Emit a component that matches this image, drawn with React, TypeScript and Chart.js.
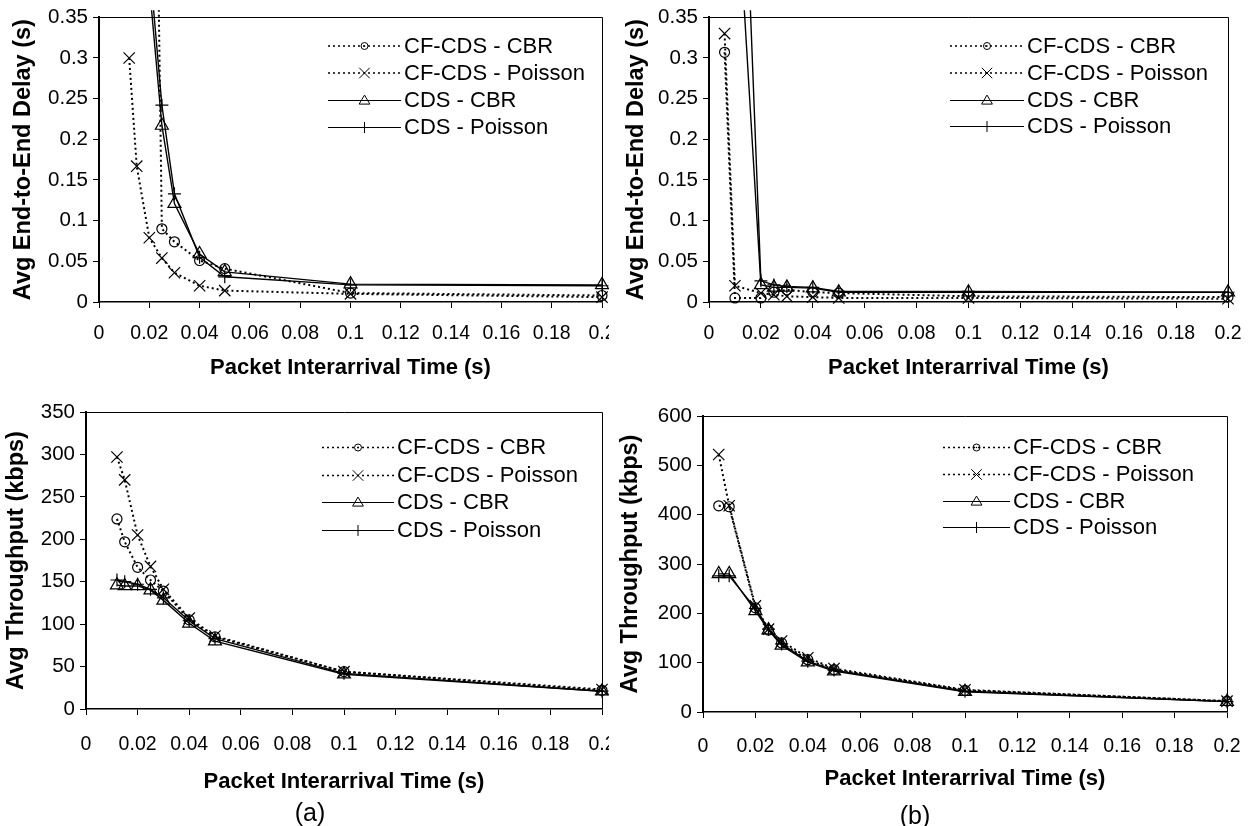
import React, { useEffect, useRef } from "react";
import { Chart, registerables } from "chart.js";
Chart.register(...registerables);

const FONT = "'Liberation Sans', Arial, Helvetica, sans-serif";

const seriesLabels = ["CF-CDS - CBR", "CF-CDS - Poisson", "CDS - CBR", "CDS - Poisson"];

const xTickLabels = ["0", "0.02", "0.04", "0.06", "0.08", "0.1", "0.12", "0.14", "0.16", "0.18", "0.2"];
const delayTickLabels = ["0", "0.05", "0.1", "0.15", "0.2", "0.25", "0.3", "0.35"];
const thrTickLabelsA = ["0", "50", "100", "150", "200", "250", "300", "350"];
const thrTickLabelsB = ["0", "100", "200", "300", "400", "500", "600"];

const xTitle = "Packet Interarrival Time (s)";
const delayTitle = "Avg End-to-End Delay (s)";
const thrTitle = "Avg Throughput (kbps)";
const captionA = "(a)";
const captionB = "(b)";

// (a) packet interarrival times (s)
const intervalA = [0.012, 0.015, 0.02, 0.025, 0.03, 0.04, 0.05, 0.1, 0.2];
// (a) delay (s)
const delayA_CFCDS_CBR = [2.0, 1.6, 1.2, 0.09, 0.074, 0.051, 0.041, 0.011, 0.008];
const delayA_CFCDS_Poisson = [0.3, 0.167, 0.079, 0.054, 0.036, 0.02, 0.014, 0.01, 0.006];
const delayA_CDS_CBR = [1.0, 0.7, 0.39, 0.217, 0.121, 0.059, 0.037, 0.022, 0.021];
const delayA_CDS_Poisson = [1.1, 0.75, 0.42, 0.242, 0.133, 0.055, 0.031, 0.021, 0.02];
// (a) throughput (kbps)
const thrA_CFCDS_CBR = [224, 197, 167, 152, 139, 105, 85, 44, 22];
const thrA_CFCDS_Poisson = [297, 270, 205, 168, 141, 107, 86, 44, 23];
const thrA_CDS_CBR = [146, 145, 145, 140, 128, 101, 80, 41, 21];
const thrA_CDS_Poisson = [152, 150, 147, 141, 131, 104, 83, 42, 21];

// (b) packet interarrival times (s)
const intervalB = [0.006, 0.01, 0.02, 0.025, 0.03, 0.04, 0.05, 0.1, 0.2];
// (b) delay (s)
const delayB_CFCDS_CBR = [0.307, 0.005, 0.005, 0.012, 0.015, 0.012, 0.011, 0.007, 0.006];
const delayB_CFCDS_Poisson = [0.33, 0.02, 0.011, 0.009, 0.007, 0.006, 0.005, 0.005, 0.004];
const delayB_CDS_CBR = [1.3, 0.55, 0.021, 0.018, 0.018, 0.017, 0.012, 0.012, 0.012];
const delayB_CDS_Poisson = [1.6, 0.85, 0.026, 0.021, 0.019, 0.018, 0.013, 0.013, 0.012];
// (b) throughput (kbps)
const thrB_CFCDS_CBR = [418, 416, 211, 166, 140, 106, 86, 44, 22];
const thrB_CFCDS_Poisson = [522, 418, 215, 168, 144, 110, 88, 45, 22];
const thrB_CDS_CBR = [280, 280, 205, 166, 135, 101, 83, 41, 21];
const thrB_CDS_Poisson = [276, 276, 210, 168, 138, 103, 85, 42, 21];

type SeriesStyle = { dash: number[]; width: number; point: string; radius: number; legendRadius: number };
const styles: SeriesStyle[] = [
  { dash: [2, 3], width: 2, point: "circle", radius: 5, legendRadius: 3.5 },
  { dash: [2, 3], width: 2, point: "crossRot", radius: 8, legendRadius: 7 },
  { dash: [], width: 1.4, point: "triangle", radius: 7.5, legendRadius: 6 },
  { dash: [], width: 1.4, point: "cross", radius: 6.5, legendRadius: 5.5 },
];

type PanelProps = {
  left: number;
  top: number;
  width: number;
  height: number;
  clipWidth: number;
  area: { l: number; t: number; r: number; b: number };
  xs: number[];
  series: number[][];
  yMax: number;
  yStep: number;
  yLabels: string[];
  yTitle: string;
  yTitlePad: number;
  xLabelPad: number;
  xTitlePadBottom: number;
  legend: { lineStart: number; textX: number; rows: number[] };
};

function drawMarker(ctx: CanvasRenderingContext2D, style: string, x: number, y: number, r: number) {
  ctx.beginPath();
  if (style === "circle") {
    ctx.arc(x, y, r, 0, Math.PI * 2);
    ctx.stroke();
    ctx.beginPath();
    ctx.arc(x, y, 0.8, 0, Math.PI * 2);
    ctx.fillStyle = "#000";
    ctx.fill();
    return;
  }
  if (style === "crossRot") {
    const d = r * 0.75;
    ctx.moveTo(x - d, y - d);
    ctx.lineTo(x + d, y + d);
    ctx.moveTo(x + d, y - d);
    ctx.lineTo(x - d, y + d);
  } else if (style === "triangle") {
    const h = r * 1.5;
    ctx.moveTo(x, y - h * 0.6);
    ctx.lineTo(x + r * 0.9, y + h * 0.4);
    ctx.lineTo(x - r * 0.9, y + h * 0.4);
    ctx.closePath();
  } else {
    ctx.moveTo(x - r, y);
    ctx.lineTo(x + r, y);
    ctx.moveTo(x, y - r);
    ctx.lineTo(x, y + r);
  }
  ctx.stroke();
}

function Panel(p: PanelProps) {
  const ref = useRef<HTMLCanvasElement | null>(null);
  useEffect(() => {
    const canvas = ref.current;
    if (!canvas) return;
    const { l, t, r, b } = p.area;
    const framePlugin = {
      id: "frameLegend",
      beforeDatasetsDraw(chart: any) {
        const { ctx, chartArea } = chart;
        ctx.save();
        ctx.strokeStyle = "#000";
        ctx.lineWidth = 1;
        ctx.beginPath();
        ctx.moveTo(chartArea.left, Math.round(chartArea.top) + 0.5);
        ctx.lineTo(Math.round(chartArea.right) + 0.5, Math.round(chartArea.top) + 0.5);
        ctx.lineTo(Math.round(chartArea.right) + 0.5, chartArea.bottom);
        ctx.stroke();
        ctx.restore();
      },
      afterDraw(chart: any) {
        const { ctx } = chart;
        const lg = p.legend;
        ctx.save();
        ctx.font = `22px ${FONT}`;
        ctx.textBaseline = "middle";
        ctx.textAlign = "left";
        ctx.fillStyle = "#000";
        seriesLabels.forEach((label, i) => {
          const s = styles[i];
          const y = lg.rows[i];
          const x0 = lg.lineStart;
          const x1 = lg.textX - 3;
          ctx.strokeStyle = "#000";
          ctx.lineWidth = s.dash.length ? 1.5 : 1.2;
          ctx.setLineDash(s.dash);
          ctx.beginPath();
          ctx.moveTo(x0, y + 0.5);
          ctx.lineTo(x1, y + 0.5);
          ctx.stroke();
          ctx.setLineDash([]);
          ctx.lineWidth = 1;
          drawMarker(ctx, s.point, (x0 + x1) / 2, y + 0.5, s.legendRadius);
          ctx.fillStyle = "#000";
          ctx.fillText(label, lg.textX, y + 1);
        });
        ctx.restore();
      },
    };
    const chart = new Chart(canvas, {
      type: "line",
      data: {
        datasets: p.series.map((ys, i) => ({
          label: seriesLabels[i],
          data: p.xs.map((x, j) => ({ x, y: ys[j] })),
          borderColor: "#000",
          borderWidth: styles[i].width,
          borderDash: styles[i].dash,
          pointStyle: styles[i].point as any,
          pointRadius: styles[i].radius,
          pointBorderColor: "#000",
          pointBackgroundColor: "rgba(0,0,0,0)",
          pointBorderWidth: 1.2,
          fill: false,
          tension: 0,
          clip: { left: 10, right: 10, top: 7, bottom: 10 },
        })),
      },
      options: {
        responsive: false,
        animation: false,
        events: [],
        layout: { padding: { left: 0, top: t, right: p.width - r, bottom: 0 } },
        plugins: { legend: { display: false }, tooltip: { enabled: false } },
        scales: {
          x: {
            type: "linear",
            min: 0,
            max: 0.2,
            afterFit: (s: any) => {
              s.height = p.height - b;
            },
            ticks: {
              stepSize: 0.02,
              autoSkip: false,
              maxRotation: 0,
              padding: p.xLabelPad,
              color: "#000",
              font: { family: FONT, size: 19.5 },
              callback: (_v: any, i: number) => xTickLabels[i],
            },
            grid: { display: true, drawOnChartArea: false, drawTicks: true, tickLength: 6, color: "#000", lineWidth: 1 },
            border: { display: true, color: "#000", width: 1.5 },
            title: {
              display: true,
              text: xTitle,
              color: "#000",
              font: { family: FONT, size: 22, weight: "bold" },
              padding: { top: 0, bottom: p.xTitlePadBottom },
            },
          },
          y: {
            type: "linear",
            min: 0,
            max: p.yMax,
            afterFit: (s: any) => {
              s.width = l;
            },
            ticks: {
              stepSize: p.yStep,
              autoSkip: false,
              padding: 5,
              color: "#000",
              font: { family: FONT, size: 20.5 },
              callback: (_v: any, i: number) => p.yLabels[i],
            },
            grid: { display: true, drawOnChartArea: false, drawTicks: true, tickLength: 6, color: "#000", lineWidth: 1 },
            border: { display: true, color: "#000", width: 2 },
            title: {
              display: true,
              text: p.yTitle,
              color: "#000",
              font: { family: FONT, size: 23.5, weight: "bold" },
              padding: { top: p.yTitlePad, bottom: 0 },
            },
          },
        },
      },
      plugins: [framePlugin],
    } as any);
    return () => chart.destroy();
  }, []);
  return (
    <div
      style={{
        position: "absolute",
        left: p.left,
        top: p.top,
        width: p.clipWidth,
        height: p.height,
        overflow: "hidden",
      }}
    >
      <canvas
        ref={ref}
        width={p.width}
        height={p.height}
        style={{ position: "absolute", left: 0, top: 0, width: p.width, height: p.height }}
      />
    </div>
  );
}

export default function App() {
  const captionStyle: React.CSSProperties = {
    position: "absolute",
    width: 80,
    textAlign: "center",
    fontFamily: FONT,
    fontSize: 25,
    lineHeight: "30px",
    color: "#000",
  };
  return (
    <div style={{ position: "absolute", left: 0, top: 0, width: 1260, height: 826, background: "#fff", overflow: "hidden" }}>
      <Panel
        left={0}
        top={0}
        width={640}
        height={390}
        clipWidth={609}
        area={{ l: 99, t: 13, r: 602, b: 302 }}
        xs={intervalA}
        series={[delayA_CFCDS_CBR, delayA_CFCDS_Poisson, delayA_CDS_CBR, delayA_CDS_Poisson]}
        yMax={0.35}
        yStep={0.05}
        yLabels={delayTickLabels}
        yTitle={delayTitle}
        yTitlePad={9}
        xLabelPad={14}
        xTitlePadBottom={9}
        legend={{ lineStart: 328, textX: 404, rows: [45.5, 72.5, 100, 127] }}
      />
      <Panel
        left={609}
        top={0}
        width={651}
        height={390}
        clipWidth={651}
        area={{ l: 100, t: 13, r: 619, b: 302 }}
        xs={intervalB}
        series={[delayB_CFCDS_CBR, delayB_CFCDS_Poisson, delayB_CDS_CBR, delayB_CDS_Poisson]}
        yMax={0.35}
        yStep={0.05}
        yLabels={delayTickLabels}
        yTitle={delayTitle}
        yTitlePad={13}
        xLabelPad={14}
        xTitlePadBottom={9}
        legend={{ lineStart: 341, textX: 418, rows: [45.5, 72.5, 100, 126] }}
      />
      <Panel
        left={0}
        top={390}
        width={640}
        height={436}
        clipWidth={609}
        area={{ l: 86, t: 22, r: 602, b: 319 }}
        xs={intervalA}
        series={[thrA_CFCDS_CBR, thrA_CFCDS_Poisson, thrA_CDS_CBR, thrA_CDS_Poisson]}
        yMax={350}
        yStep={50}
        yLabels={thrTickLabelsA}
        yTitle={thrTitle}
        yTitlePad={2}
        xLabelPad={18}
        xTitlePadBottom={31}
        legend={{ lineStart: 322, textX: 397, rows: [57, 85, 112, 140] }}
      />
      <Panel
        left={609}
        top={390}
        width={651}
        height={436}
        clipWidth={651}
        area={{ l: 94, t: 26, r: 618, b: 322 }}
        xs={intervalB}
        series={[thrB_CFCDS_CBR, thrB_CFCDS_Poisson, thrB_CDS_CBR, thrB_CDS_Poisson]}
        yMax={600}
        yStep={100}
        yLabels={thrTickLabelsB}
        yTitle={thrTitle}
        yTitlePad={7}
        xLabelPad={17}
        xTitlePadBottom={34}
        legend={{ lineStart: 334, textX: 404, rows: [57, 84, 111, 137] }}
      />
      <div style={{ ...captionStyle, left: 270, top: 797 }}>{captionA}</div>
      <div style={{ ...captionStyle, left: 875, top: 800 }}>{captionB}</div>
    </div>
  );
}
